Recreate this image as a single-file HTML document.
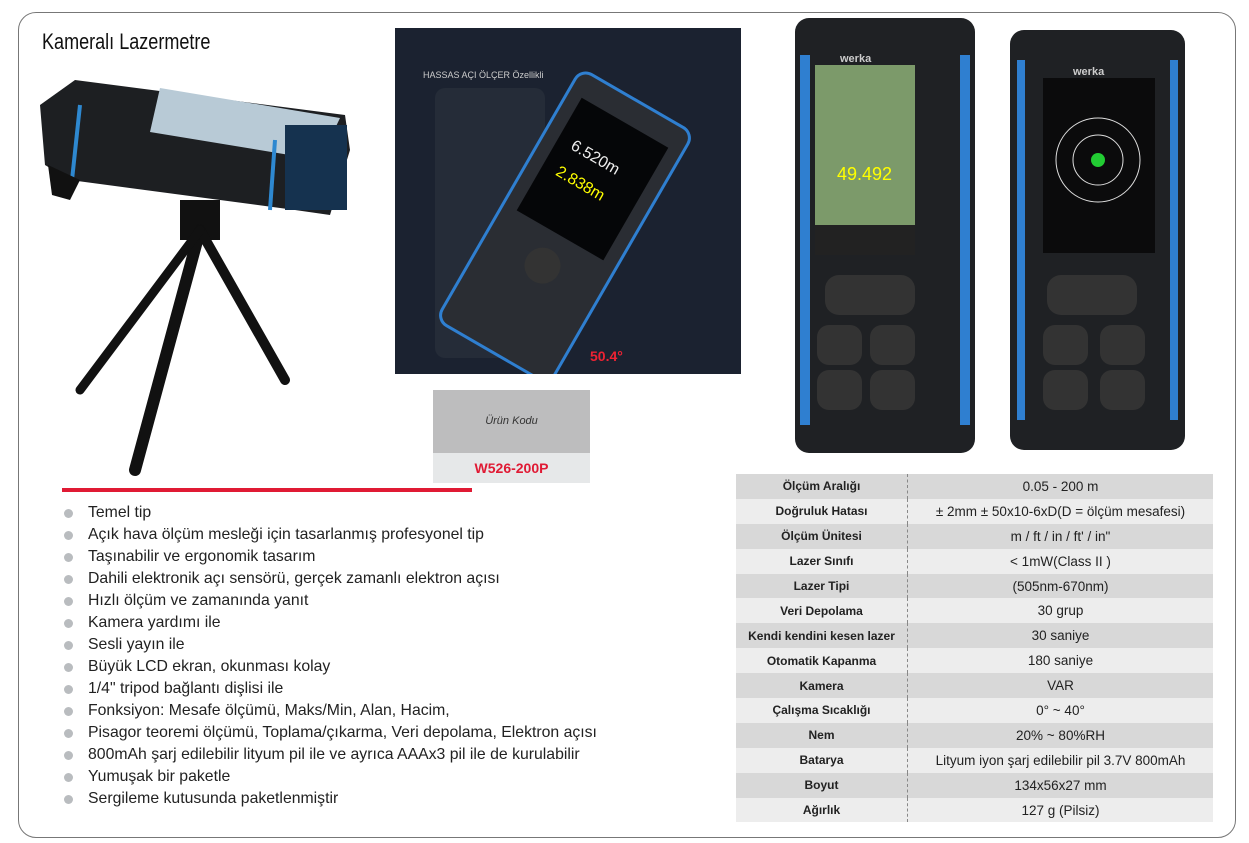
<!DOCTYPE html>
<html><head><meta charset="utf-8"><style>
body{margin:0;width:1249px;height:843px;background:#fff;position:relative;overflow:hidden;font-family:"Liberation Sans",sans-serif}
.abs{position:absolute}
.frame{left:18px;top:12px;width:1218px;height:826px;border:1px solid #777;border-radius:18px;box-sizing:border-box}
h1{position:absolute;left:42px;top:29px;margin:0;font:normal 22px "Liberation Sans",sans-serif;color:#111;transform:scaleX(0.82);transform-origin:0 0;white-space:nowrap}
ul{position:absolute;left:62px;top:502px;margin:0;padding:0;list-style:none}
li{height:22px;line-height:22px;font-size:15.8px;color:#222;padding-left:26px;position:relative;white-space:nowrap}
li:before{content:"";position:absolute;left:2px;top:7px;width:9px;height:9px;border-radius:50%;background:#b9bcbf}
table{position:absolute;left:736px;top:474px;width:477px;border-collapse:collapse}
td{height:24.9px;padding:0;text-align:center;font-size:13.5px;color:#222;vertical-align:middle}
td.k{width:171px;font-weight:bold;font-size:12px;border-right:1px dashed #888}
tr:nth-child(odd){background:#d8d8d8}
tr:nth-child(even){background:#ededed}
</style></head><body>
<div class="abs frame"></div>
<h1>Kameralı Lazermetre</h1>

<svg class="abs" style="left:30px;top:70px" width="340" height="420">
<polygon points="10,35 45,10 315,45 320,80 300,145 265,140 40,110 15,95" fill="#1d1f22"/>
<polygon points="130,18 310,48 290,90 120,62" fill="#b8cad6"/>
<rect x="255" y="55" width="62" height="85" fill="#15324f"/>
<line x1="50" y1="35" x2="42" y2="110" stroke="#2e88d0" stroke-width="4"/>
<line x1="245" y1="70" x2="240" y2="140" stroke="#2e88d0" stroke-width="4"/>
<polygon points="18,95 50,110 40,130 22,125" fill="#111"/>
<rect x="150" y="130" width="40" height="40" fill="#111"/>
<line x1="170" y1="160" x2="105" y2="400" stroke="#111" stroke-width="12" stroke-linecap="round"/>
<line x1="170" y1="160" x2="255" y2="310" stroke="#111" stroke-width="10" stroke-linecap="round"/>
<line x1="170" y1="160" x2="50" y2="320" stroke="#111" stroke-width="9" stroke-linecap="round"/>
</svg>

<div class="abs" style="left:395px;top:28px;width:346px;height:346px;background:#1b2230"></div>
<svg class="abs" style="left:395px;top:28px" width="346" height="346">
<text x="28" y="50" fill="#ccc" font-size="9" font-family="Liberation Sans">HASSAS AÇI ÖLÇER Özellikli</text>
<rect x="40" y="60" width="110" height="270" rx="10" fill="#252c38"/>
<g transform="rotate(30 175 190)">
<rect x="110" y="55" width="130" height="290" rx="12" fill="#2a2d33" stroke="#2f7fd0" stroke-width="3"/>
<rect x="125" y="80" width="100" height="130" fill="#050608"/>
<text x="140" y="130" fill="#eee" font-size="16">6.520m</text>
<text x="140" y="160" fill="#ff0" font-size="16">2.838m</text>
<circle cx="175" cy="245" r="18" fill="#333"/>
</g>
<text x="195" y="333" fill="#e23" font-size="14" font-weight="bold">50.4°</text>
</svg>

<svg class="abs" style="left:785px;top:10px" width="420" height="450">
<rect x="10" y="8" width="180" height="435" rx="14" fill="#1f2124"/>
<rect x="15" y="45" width="10" height="370" fill="#2f7fd0"/>
<rect x="175" y="45" width="10" height="370" fill="#2f7fd0"/>
<rect x="30" y="55" width="100" height="190" fill="#7c9a6a"/>
<rect x="30" y="215" width="100" height="30" fill="#222"/>
<text x="52" y="170" fill="#ff0" font-size="18">49.492</text>
<text x="55" y="52" fill="#ccc" font-size="11" font-weight="bold">werka</text>
<rect x="40" y="265" width="90" height="40" rx="14" fill="#333"/>
<rect x="32" y="315" width="45" height="40" rx="12" fill="#333"/><rect x="85" y="315" width="45" height="40" rx="12" fill="#333"/>
<rect x="32" y="360" width="45" height="40" rx="12" fill="#333"/><rect x="85" y="360" width="45" height="40" rx="12" fill="#333"/>
<rect x="225" y="20" width="175" height="420" rx="14" fill="#1f2124"/>
<rect x="232" y="50" width="8" height="360" fill="#2f7fd0"/>
<rect x="385" y="50" width="8" height="360" fill="#2f7fd0"/>
<rect x="258" y="68" width="112" height="175" fill="#0b0b0c"/>
<circle cx="313" cy="150" r="42" fill="none" stroke="#ddd"/><circle cx="313" cy="150" r="25" fill="none" stroke="#ddd"/>
<circle cx="313" cy="150" r="7" fill="#2c3"/>
<text x="288" y="65" fill="#ccc" font-size="11" font-weight="bold">werka</text>
<rect x="262" y="265" width="90" height="40" rx="14" fill="#333"/>
<rect x="258" y="315" width="45" height="40" rx="12" fill="#333"/><rect x="315" y="315" width="45" height="40" rx="12" fill="#333"/>
<rect x="258" y="360" width="45" height="40" rx="12" fill="#333"/><rect x="315" y="360" width="45" height="40" rx="12" fill="#333"/>
</svg>

<div class="abs" style="left:433px;top:390px;width:157px;height:63px;background:#bdbdbe;text-align:center;line-height:63px;font-size:11px;font-style:italic;color:#333">Ürün Kodu</div>
<div class="abs" style="left:433px;top:453px;width:157px;height:30px;background:#e6e8e9;text-align:center;line-height:30px;font-size:14px;font-weight:bold;color:#e01a34">W526-200P</div>
<div class="abs" style="left:62px;top:488px;width:410px;height:4px;background:#e01a34"></div>

<ul>
<li>Temel tip</li>
<li>Açık hava ölçüm mesleği için tasarlanmış profesyonel tip</li>
<li>Taşınabilir ve ergonomik tasarım</li>
<li>Dahili elektronik açı sensörü, gerçek zamanlı elektron açısı</li>
<li>Hızlı ölçüm ve zamanında yanıt</li>
<li>Kamera yardımı ile</li>
<li>Sesli yayın ile</li>
<li>Büyük LCD ekran, okunması kolay</li>
<li>1/4" tripod bağlantı dişlisi ile</li>
<li>Fonksiyon: Mesafe ölçümü, Maks/Min, Alan, Hacim,</li>
<li>Pisagor teoremi ölçümü, Toplama/çıkarma, Veri depolama, Elektron açısı</li>
<li>800mAh şarj edilebilir lityum pil ile ve ayrıca AAAx3 pil ile de kurulabilir</li>
<li>Yumuşak bir paketle</li>
<li>Sergileme kutusunda paketlenmiştir</li>
</ul>

<table>
<tr><td class="k">Ölçüm Aralığı</td><td>0.05 - 200 m</td></tr>
<tr><td class="k">Doğruluk Hatası</td><td>± 2mm ± 50x10-6xD(D = ölçüm mesafesi)</td></tr>
<tr><td class="k">Ölçüm Ünitesi</td><td>m / ft / in / ft' / in"</td></tr>
<tr><td class="k">Lazer Sınıfı</td><td>&lt; 1mW(Class II )</td></tr>
<tr><td class="k">Lazer Tipi</td><td>(505nm-670nm)</td></tr>
<tr><td class="k">Veri Depolama</td><td>30 grup</td></tr>
<tr><td class="k">Kendi kendini kesen lazer</td><td>30 saniye</td></tr>
<tr><td class="k">Otomatik Kapanma</td><td>180 saniye</td></tr>
<tr><td class="k">Kamera</td><td>VAR</td></tr>
<tr><td class="k">Çalışma Sıcaklığı</td><td>0° ~ 40°</td></tr>
<tr><td class="k">Nem</td><td>20% ~ 80%RH</td></tr>
<tr><td class="k">Batarya</td><td>Lityum iyon şarj edilebilir pil 3.7V 800mAh</td></tr>
<tr><td class="k">Boyut</td><td>134x56x27 mm</td></tr>
<tr><td class="k">Ağırlık</td><td>127 g (Pilsiz)</td></tr>
</table>
</body></html>
